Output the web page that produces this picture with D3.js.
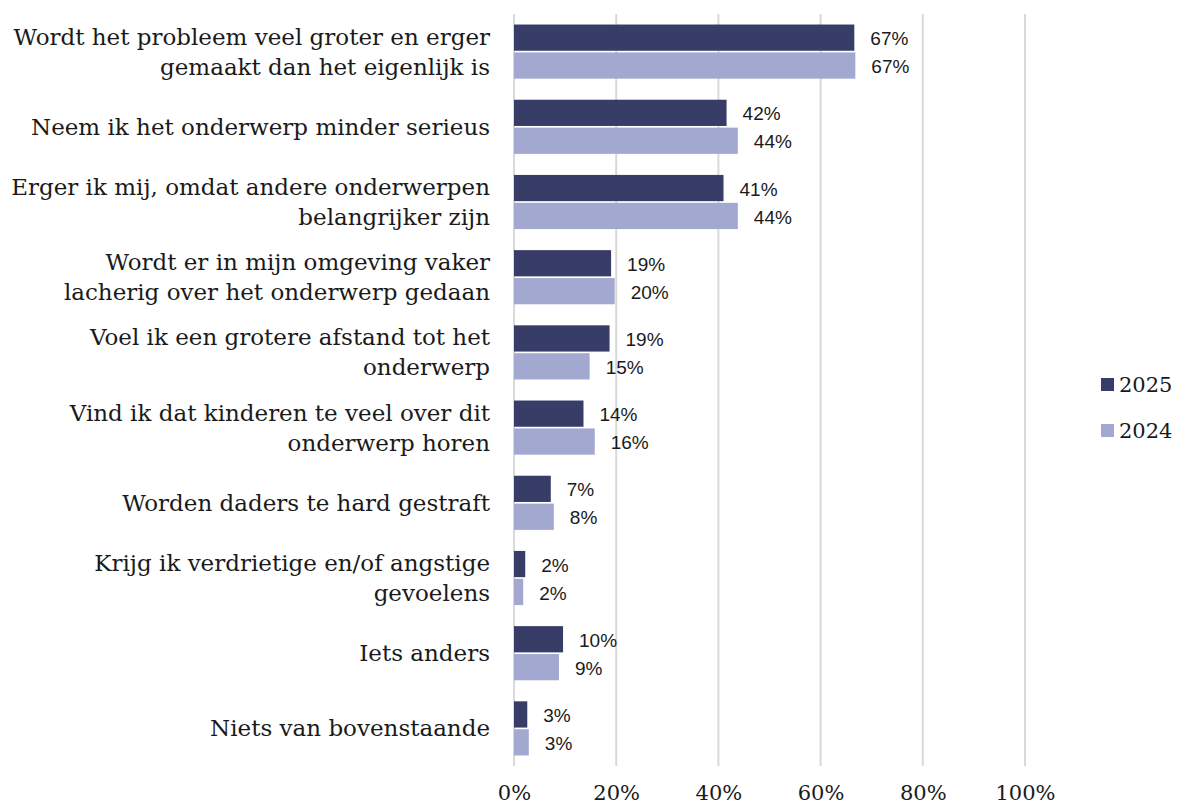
<!DOCTYPE html>
<html>
<head>
<meta charset="utf-8">
<script src="https://cdn.jsdelivr.net/npm/d3@7"></script>
<style>
  body { margin: 0; background: #fff; }
  .cat { font-family: "DejaVu Serif", serif; font-size: 23px; fill: #1a1a1a; }
  .tick text { font-family: "DejaVu Serif", serif; font-size: 21px; fill: #1a1a1a; }
  .val { font-family: "Liberation Sans", Arial, sans-serif; font-size: 19px; fill: #1a1a1a; }
  .leg { font-family: "DejaVu Serif", serif; font-size: 21px; fill: #1a1a1a; }
</style>
</head>
<body>
<svg id="chart" width="1181" height="807"></svg>
<script>
const categories = [
  ["Wordt het probleem veel groter en erger", "gemaakt dan het eigenlijk is"],
  ["Neem ik het onderwerp minder serieus"],
  ["Erger ik mij, omdat andere onderwerpen", "belangrijker zijn"],
  ["Wordt er in mijn omgeving vaker", "lacherig over het onderwerp gedaan"],
  ["Voel ik een grotere afstand tot het", "onderwerp"],
  ["Vind ik dat kinderen te veel over dit", "onderwerp horen"],
  ["Worden daders te hard gestraft"],
  ["Krijg ik verdrietige en/of angstige", "gevoelens"],
  ["Iets anders"],
  ["Niets van bovenstaande"]
];
const series = ["2025", "2024"];
const values2025 = [66.6, 41.6, 41.0, 19.0, 18.7, 13.6, 7.2, 2.2, 9.6, 2.6];
const values2024 = [66.8, 43.8, 43.8, 19.7, 14.8, 15.8, 7.8, 1.8, 8.8, 2.9];
const ticks = [0, 20, 40, 60, 80, 100];
const colors = ["#383d68", "#a3a8d0"];

const svg = d3.select("#chart");
const margin = { top: 14, left: 514, right: 156, bottom: 41 };
const width = 1181 - margin.left - margin.right;
const height = 807 - margin.top - margin.bottom;

const g = svg.append("g").attr("transform", `translate(${margin.left},${margin.top})`);

const x = d3.scaleLinear().domain([0, 100]).range([0, width]);
const y = d3.scaleBand().domain(d3.range(categories.length)).range([0, height]).paddingInner(0.28).paddingOuter(0.14);
const ySub = d3.scaleBand().domain(series).range([0, y.bandwidth()]).paddingInner(0.06);
const color = d3.scaleOrdinal().domain(series).range(colors);

// gridlines
g.append("g").selectAll("line").data(ticks).join("line")
  .attr("x1", d => x(d)).attr("x2", d => x(d))
  .attr("y1", 0).attr("y2", height)
  .attr("stroke", "#d9d9d9").attr("stroke-width", 2);

// x axis labels
const xAxis = g.append("g").attr("transform", `translate(0,${height})`)
  .call(d3.axisBottom(x).tickValues(ticks).tickFormat(d => d + "%").tickSize(0).tickPadding(19));
xAxis.select(".domain").remove();

const rows = categories.map((c, i) => ({ i, vals: [values2025[i], values2024[i]] }));

const grp = g.selectAll("g.row").data(rows).join("g")
  .attr("class", "row")
  .attr("transform", d => `translate(0,${y(d.i)})`);

grp.selectAll("rect").data(d => d.vals.map((v, k) => ({ s: series[k], v }))).join("rect")
  .attr("x", 0)
  .attr("y", d => ySub(d.s))
  .attr("width", d => x(d.v))
  .attr("height", ySub.bandwidth())
  .attr("fill", d => color(d.s));

grp.selectAll("text.val").data(d => d.vals.map((v, k) => ({ s: series[k], v }))).join("text")
  .attr("class", "val")
  .attr("x", d => x(d.v) + 16)
  .attr("y", d => ySub(d.s) + ySub.bandwidth() / 2 + 1)
  .attr("dy", "0.35em")
  .text(d => Math.round(d.v) + "%");

// category labels
const lineH = 30;
g.selectAll("text.cat").data(categories).join("text")
  .attr("class", "cat")
  .attr("text-anchor", "end")
  .attr("transform", (d, i) => `translate(-24,${y(i) + y.bandwidth() / 2})`)
  .each(function (lines) {
    const t = d3.select(this);
    lines.forEach((ln, k) => {
      t.append("tspan").attr("x", 0)
        .attr("y", (k - (lines.length - 1) / 2) * lineH)
        .attr("dy", "0.35em")
        .text(ln);
    });
  });

// legend
const leg = svg.append("g").attr("transform", "translate(1101,385)");
series.forEach((s, k) => {
  const row = leg.append("g").attr("transform", `translate(0,${k * 46})`);
  row.append("rect").attr("x", 0).attr("y", -7).attr("width", 13).attr("height", 13).attr("fill", color(s));
  row.append("text").attr("class", "leg").attr("x", 18).attr("dy", "0.35em").text(s);
});
</script>
</body>
</html>
